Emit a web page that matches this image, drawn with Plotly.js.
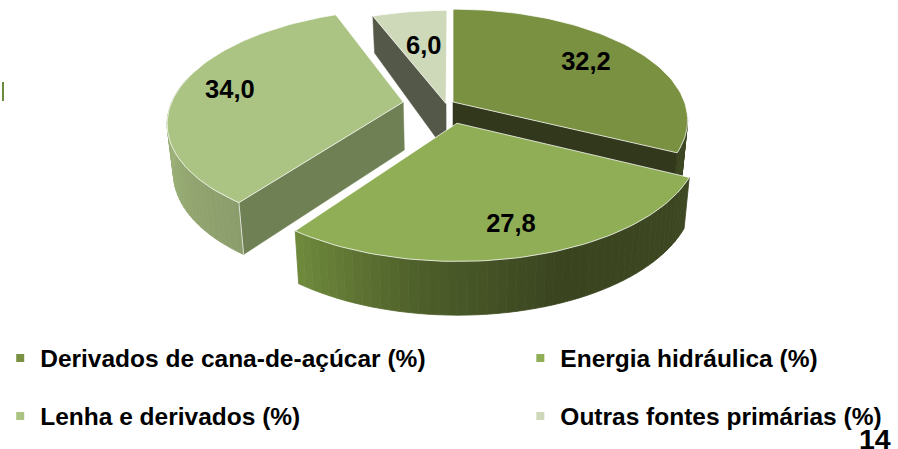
<!DOCTYPE html>
<html><head><meta charset="utf-8">
<script src="https://cdn.plot.ly/plotly-3.0.1.min.js"></script>
<style>html,body{margin:0;padding:0;background:#fff;overflow:hidden}#c{width:898px;height:449px}</style>
</head><body><div id="c"></div>
<script>
const categories = ['Derivados de cana-de-açúcar (%)','Energia hidráulica (%)','Lenha e derivados (%)','Outras fontes primárias (%)'];
const values = [32.2, 27.8, 34.0, 6.0];
const topColors = ['#7A9142','#8FAE55','#ABC483','#CDD9B8'];
const legendColors = ['#7A9142','#8FAE55','#ABC483','#CDD9B8'];
const explodeU = [0, 0.017, -0.215, -0.03];
const explodeV = [0, 0.19, 0, 0.015];
const labelRadius = [0.72, 0.8, 0.77, 0.575];

// projection of the tilted disc
const CX=452, CY=102, A=232, B=108, P=0.163, DEPTH=48;
function proj(u,v,low){
  const den=1-P*v; let x=A*u/den, y=B*v/den;
  if(low){ x*=0.978; y+=DEPTH*(v>=0?1+0.1*v:1+0.25*v); }
  return [CX+x,CY+y];
}
const rad=d=>d*Math.PI/180;
function pt(i,deg,r,low){
  return proj(r*Math.sin(rad(deg))+explodeU[i], -r*Math.cos(rad(deg))+explodeV[i], low);
}
const total=values.reduce((a,b)=>a+b,0);
let cum=0; const angles=values.map(v=>{const s=cum/total*360;cum+=v;return [s,cum/total*360];});

function hex(c){return [1,3,5].map(k=>parseInt(c.slice(k,k+2),16));}
function mix(stops,t){
  for(let k=0;k<stops.length-1;k++){
    const [a,ca]=stops[k],[b,cb]=stops[k+1];
    if(t<=b||k===stops.length-2){
      const f=Math.max(0,Math.min(1,(t-a)/(b-a))),A1=hex(ca),B1=hex(cb);
      return 'rgb('+A1.map((q,j)=>Math.round(q+(B1[j]-q)*f)).join(',')+')';
    }
  }
}
const traces=[];
function poly(pts,color,lineColor,lw){
  traces.push({type:'scatter',mode:'lines',x:pts.map(p=>p[0]).concat(pts[0][0]),y:pts.map(p=>p[1]).concat(pts[0][1]),
    fill:'toself',fillcolor:color,line:{color:lineColor||color,width:lw===undefined?1:lw},showlegend:false,hoverinfo:'skip'});
}
function wall(i,d0,d1,stops){
  const n=Math.max(2,Math.round((d1-d0)/2));
  for(let k=0;k<n;k++){
    const a=d0+(d1-d0)*k/n,b=d0+(d1-d0)*(k+1)/n;
    const c=mix(stops,(a+b)/2);
    poly([pt(i,a,1,false),pt(i,b,1,false),pt(i,b,1,true),pt(i,a,1,true)],c,c,0.8);
  }
}
function cutFace(i,d,color){
  poly([pt(i,d,0,false),pt(i,d,1,false),pt(i,d,1,true),pt(i,d,0,true)],color,color,0.5);
}
function topFace(i){
  const [s,e]=angles[i],pts=[pt(i,0,0,false)];
  for(let d=s;d<e;d+=1.5)pts.push(pt(i,d,1,false));
  pts.push(pt(i,e,1,false));
  poly(pts,topColors[i],'rgba(255,255,255,0.75)',1);
}
// painter's order: back to front
cutFace(3,angles[3][0],'#545848'); topFace(3);
wall(0,98,angles[0][1],[[98,'#3D4822'],[117,'#3A4420']]);
cutFace(0,angles[0][1],'#31381B'); topFace(0);
wall(2,angles[2][0],285,[[216,'#8B9D6B'],[250,'#98AC74'],[285,'#A6BB83']]);
cutFace(2,angles[2][0],'#708055');
{const a=pt(2,angles[2][0],1,false),b=pt(2,angles[2][0],1,true);
 traces.push({type:'scatter',mode:'lines',x:[a[0],b[0]],y:[a[1],b[1]],line:{color:'rgba(255,255,255,0.75)',width:1},showlegend:false,hoverinfo:'skip'});}
topFace(2);
wall(1,angles[1][0],angles[1][1],[[116,'#3D4822'],[160,'#3A4520'],[188,'#4E5F2A'],[216,'#708B3D']]);
topFace(1);

// value labels
const lx=[],ly=[],lt=[];
values.forEach((v,i)=>{const m=(angles[i][0]+angles[i][1])/2,p=pt(i,m,labelRadius[i],false);
  lx.push(p[0]);ly.push(p[1]);lt.push(v.toFixed(1).replace('.',','));});
traces.push({type:'scatter',mode:'text',x:lx,y:ly,text:lt,textposition:'middle center',cliponaxis:false,
  textfont:{family:'Liberation Sans',size:25.5,color:'#000',weight:700},showlegend:false,hoverinfo:'skip'});

// legend entries
const legX=[-0.002,0.5785], legY=[358,416];
const legPos=[[0,0],[1,0],[0,1],[1,1]];
const layout={width:898,height:449,margin:{l:0,r:0,t:0,b:0},paper_bgcolor:'#fff',plot_bgcolor:'#fff',
  xaxis:{range:[0,898],visible:false,fixedrange:true},
  yaxis:{range:[449,0],visible:false,fixedrange:true},
  annotations:[{text:'<b>14</b>',x:875,y:439,xref:'x',yref:'y',showarrow:false,xanchor:'center',yanchor:'middle',
    font:{family:'Liberation Sans',size:28.5,color:'#000'}}],
  shapes:[{type:'rect',x0:0,x1:2,y0:82,y1:101,fillcolor:'#6B8A3A',line:{width:0}}]
};
categories.forEach((c,i)=>{
  const key=i===0?'legend':'legend'+(i+1);
  traces.push({type:'scatter',mode:'markers',x:[null],y:[null],name:c,legend:i===0?'legend':'legend'+(i+1),
    marker:{symbol:'square',size:8,color:legendColors[i]},showlegend:true,hoverinfo:'skip'});
  layout[key]={x:legX[legPos[i][0]],y:1-legY[legPos[i][1]]/449,xanchor:'left',yanchor:'middle',bgcolor:'rgba(0,0,0,0)',
    borderwidth:0,itemwidth:30,font:{family:'Liberation Sans',size:24.5,color:'#000',weight:700},itemclick:false,itemdoubleclick:false};
});
Plotly.newPlot('c',traces,layout,{displayModeBar:false,staticPlot:true});
</script></body></html>
